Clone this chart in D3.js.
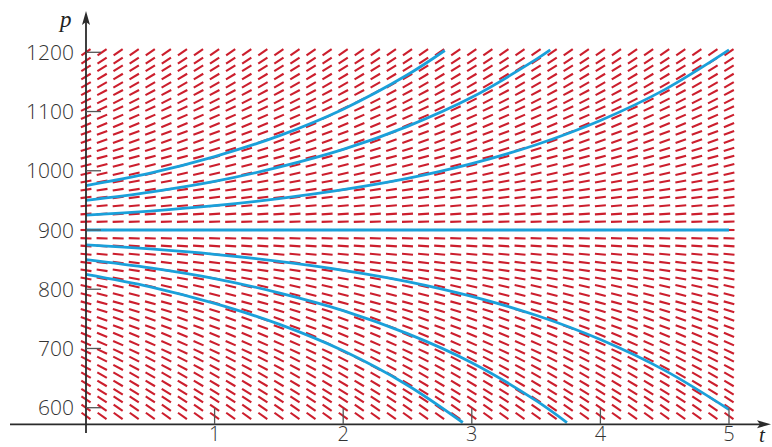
<!DOCTYPE html>
<html>
<head>
<meta charset="utf-8">
<script src="https://cdn.jsdelivr.net/npm/d3@7/dist/d3.min.js"></script>
<style>
  html, body { margin: 0; padding: 0; background: #fff; }
  svg { display: block; }
</style>
</head>
<body>
<svg id="chart" width="772" height="447"></svg>
<script>
// Direction field for dp/dt with a few solution curves p(t)

// Axis ticks
const tTicks = [1, 2, 3, 4, 5];
const pTicks = [600, 700, 800, 900, 1000, 1100, 1200];

// Direction-field grid: sample times and population rows
const fieldT = d3.range(0, 5.0001, 0.125);
const fieldP = [1200, 1186, 1173, 1159, 1145, 1132, 1118, 1105, 1091, 1077,
                1064, 1050, 1036, 1023, 1009, 995, 982, 968, 955, 941,
                927, 914, 900, 886, 873, 859, 845, 832, 818, 805,
                791, 777, 764, 750, 736, 723, 709, 695, 682, 668,
                655, 641, 627, 614, 600, 586];
// dp/dt on each row
const fieldSlope = [150, 143, 136, 130, 123, 116, 109, 102, 95, 89,
                    82, 75, 68, 61, 55, 48, 41, 34, 27, 20,
                    14, 7, 0, -7, -14, -20, -27, -34, -41, -48,
                    -55, -61, -68, -75, -82, -89, -95, -102, -109, -116,
                    -123, -130, -136, -143, -150, -157];

// Solution curves: [t, p] points
const curve975 = [[0, 975], [0.5, 996], [1, 1024], [1.5, 1059], [2, 1104], [2.5, 1162], [2.79, 1203]];
const curve950 = [[0, 950], [0.5, 964], [1, 982], [1.5, 1006], [2, 1036], [2.5, 1075], [3, 1124], [3.5, 1188], [3.61, 1204]];
const curve925 = [[0, 925], [0.5, 932], [1, 941], [1.5, 953], [2, 968], [2.5, 987], [3, 1012], [3.5, 1044], [4, 1085], [4.5, 1137], [5, 1204]];
const curve900 = [[0, 900], [5, 900]];
const curve875 = [[0, 875], [0.5, 868], [1, 859], [1.5, 847], [2, 832], [2.5, 813], [3, 788], [3.5, 756], [4, 715], [4.5, 663], [5, 597]];
const curve850 = [[0, 850], [0.5, 836], [1, 818], [1.5, 794], [2, 764], [2.5, 725], [3, 676], [3.5, 612], [3.74, 575]];
const curve825 = [[0, 825], [0.5, 804], [1, 776], [1.5, 741], [2, 696], [2.5, 638], [2.93, 575]];
const solutions = [curve975, curve950, curve925, curve900, curve875, curve850, curve825];

const svg = d3.select("#chart");
const x = d3.scaleLinear().domain([0, 5]).range([86, 729]);
const y = d3.scaleLinear().domain([600, 1200]).range([407.7, 52.3]);

const red = "#cc1e2d";
const blue = "#1aa0da";
const axisColor = "#2b2b2b";
const segLen = 11;

// Direction field dashes, centred on each grid point
const dashes = [];
fieldP.forEach((p, i) => {
  const s = fieldSlope[i];
  fieldT.forEach(t => {
    const dt = 0.1;
    const dx = x(t + dt) - x(t);
    const dy = y(p + s * dt) - y(p);
    const len = Math.hypot(dx, dy);
    const ux = dx / len * segLen / 2, uy = dy / len * segLen / 2;
    const cx = x(t), cy = y(p);
    dashes.push({ x1: cx - ux, y1: cy - uy, x2: cx + ux, y2: cy + uy });
  });
});
svg.append("g")
  .selectAll("line")
  .data(dashes)
  .join("line")
  .attr("x1", d => d.x1).attr("y1", d => d.y1)
  .attr("x2", d => d.x2).attr("y2", d => d.y2)
  .attr("stroke", red)
  .attr("stroke-width", 2.1);

// Solution curves
const line = d3.line()
  .x(d => x(d[0]))
  .y(d => y(d[1]))
  .curve(d3.curveCatmullRom.alpha(0.5));
svg.append("g")
  .selectAll("path")
  .data(solutions)
  .join("path")
  .attr("d", line)
  .attr("fill", "none")
  .attr("stroke", blue)
  .attr("stroke-width", 2.8)
  .attr("stroke-linecap", "butt");

// Axes
const x0 = x(0);
const axisY = 424.3;
const axes = svg.append("g");
axes.append("line")
  .attr("x1", 10).attr("x2", 760)
  .attr("y1", axisY).attr("y2", axisY)
  .attr("stroke", axisColor).attr("stroke-width", 1.8);
axes.append("line")
  .attr("x1", x0).attr("x2", x0)
  .attr("y1", 433).attr("y2", 22)
  .attr("stroke", axisColor).attr("stroke-width", 1.8);
// Arrowheads
axes.append("path")
  .attr("d", `M${x0},11 L${x0 - 4},25 L${x0},22 L${x0 + 4},25 Z`)
  .attr("fill", axisColor);
axes.append("path")
  .attr("d", `M771,${axisY} L757,${axisY - 4} L760,${axisY} L757,${axisY + 4} Z`)
  .attr("fill", axisColor);

// Tick marks
axes.selectAll("line.ytick")
  .data(pTicks)
  .join("line")
  .attr("class", "ytick")
  .attr("x1", x0).attr("x2", x0 + 15)
  .attr("y1", d => y(d)).attr("y2", d => y(d))
  .attr("stroke", "#555").attr("stroke-width", 1.3);
axes.selectAll("line.xtick")
  .data(tTicks)
  .join("line")
  .attr("class", "xtick")
  .attr("x1", d => x(d)).attr("x2", d => x(d))
  .attr("y1", axisY).attr("y2", axisY - 16)
  .attr("stroke", "#555").attr("stroke-width", 1.3);

// Tick labels
const labelFont = "'Open Sans', 'Liberation Sans', sans-serif";
axes.selectAll("text.ylab")
  .data(pTicks)
  .join("text")
  .attr("class", "ylab")
  .attr("x", 74)
  .attr("y", d => y(d) + 7.5)
  .attr("text-anchor", "end")
  .attr("font-family", labelFont)
  .attr("font-weight", 300)
  .attr("font-size", 21)
  .attr("fill", "#333")
  .text(d => d);
axes.selectAll("text.xlab")
  .data(tTicks)
  .join("text")
  .attr("class", "xlab")
  .attr("x", d => x(d))
  .attr("y", 441)
  .attr("text-anchor", "middle")
  .attr("font-family", labelFont)
  .attr("font-weight", 300)
  .attr("font-size", 20)
  .attr("fill", "#333")
  .text(d => d);

// Axis names
axes.append("text")
  .attr("x", 60).attr("y", 27)
  .attr("font-family", "'Liberation Serif', 'DejaVu Serif', serif")
  .attr("font-style", "italic")
  .attr("font-size", 23)
  .attr("fill", "#222")
  .text("p");
axes.append("text")
  .attr("x", 759).attr("y", 442)
  .attr("font-family", "'Liberation Serif', 'DejaVu Serif', serif")
  .attr("font-style", "italic")
  .attr("font-size", 21)
  .attr("fill", "#222")
  .text("t");
</script>
</body>
</html>
